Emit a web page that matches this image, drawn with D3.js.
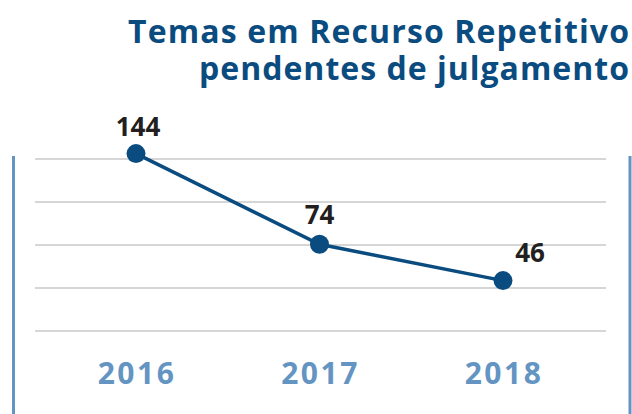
<!DOCTYPE html>
<html>
<head>
<meta charset="utf-8">
<script src="https://cdn.jsdelivr.net/npm/d3@7"></script>
<style>
  body { margin: 0; background: #fff; }
  svg { display: block; font-family: "Open Sans", sans-serif; }
</style>
</head>
<body>
<div id="chart"></div>
<script>
// data
var years = ["2016", "2017", "2018"]
var values = [144, 74, 46]
var titleLines = ["Temas em Recurso Repetitivo", "pendentes de julgamento"]
var titleWidths = [501, 430]
var gridCount = 5

var width = 632, height = 414

var svg = d3.select("#chart").append("svg")
    .attr("width", width)
    .attr("height", height)

// scales
var x = d3.scalePoint().domain(years).range([136, 503])
var y = d3.scaleLinear().domain([0, 140]).range([340.2, 158.8])
var grid = d3.scaleLinear().domain([0, gridCount - 1]).range([331, 159])

// title, one text block with two lines
var title = svg.append("text")
    .attr("class", "title")
    .attr("text-anchor", "end")
    .style("font-size", "32px")
    .style("font-weight", 700)
    .style("fill", "#0b4c80")

title.selectAll("tspan")
    .data(titleLines)
    .enter().append("tspan")
    .attr("x", 629)
    .attr("y", function(d, i) { return 43 + i * 37 })
    .attr("textLength", function(d, i) { return titleWidths[i] })
    .attr("lengthAdjust", "spacing")
    .text(function(d) { return d })

// side rules
svg.selectAll("line.side")
    .data([13.5, 630])
    .enter().append("line")
    .attr("class", "side")
    .attr("x1", function(d) { return d })
    .attr("x2", function(d) { return d })
    .attr("y1", 156)
    .attr("y2", height)
    .style("stroke", "#6394c2")
    .style("stroke-width", 3)

// gridlines
svg.selectAll("line.grid")
    .data(d3.range(gridCount))
    .enter().append("line")
    .attr("class", "grid")
    .attr("x1", 35)
    .attr("x2", 606)
    .attr("y1", function(d) { return grid(d) })
    .attr("y2", function(d) { return grid(d) })
    .style("stroke", "#d6d6d6")
    .style("stroke-width", 2)

var points = years.map(function(yr, i) { return {year: yr, value: values[i]} })

// line
var line = d3.line()
    .x(function(d) { return x(d.year) })
    .y(function(d) { return y(d.value) })

svg.append("path")
    .datum(points)
    .attr("d", line)
    .style("fill", "none")
    .style("stroke", "#0b4c80")
    .style("stroke-width", 3.5)

svg.selectAll("circle")
    .data(points)
    .enter().append("circle")
    .attr("cx", function(d) { return x(d.year) })
    .attr("cy", function(d) { return y(d.value) })
    .attr("r", 9.5)
    .style("fill", "#0b4c80")

// value labels
var labelDx = [2, 0, 27]
var labelDy = [-18, -20, -19]
svg.selectAll("text.val")
    .data(points)
    .enter().append("text")
    .attr("class", "val")
    .attr("x", function(d, i) { return x(d.year) + labelDx[i] })
    .attr("y", function(d, i) { return y(d.value) + labelDy[i] })
    .attr("text-anchor", "middle")
    .style("font-size", "26px")
    .style("font-weight", 700)
    .style("fill", "#231f20")
    .text(function(d) { return d.value })

// year labels
svg.selectAll("text.year")
    .data(years)
    .enter().append("text")
    .attr("class", "year")
    .attr("x", function(d) { return x(d) + 1 })
    .attr("y", 384)
    .attr("text-anchor", "middle")
    .style("font-size", "30px")
    .style("font-weight", 700)
    .style("letter-spacing", "2.5px")
    .style("fill", "#6394c2")
    .text(function(d) { return d })
</script>
</body>
</html>
